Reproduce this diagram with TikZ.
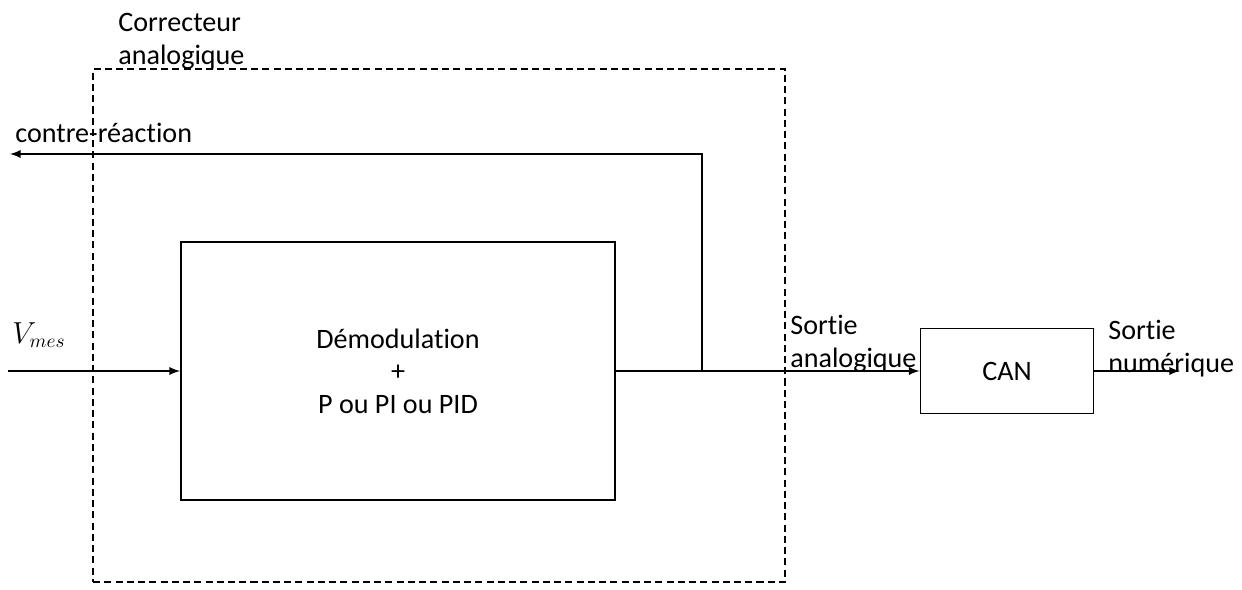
\documentclass[tikz,border=0pt]{standalone}
\usepackage{fontspec}
\setmainfont{Carlito}[Ligatures=NoCommon]
\begin{document}
\begin{tikzpicture}[
    x=0.02cm, y=-0.02cm,
    every node/.style={font=\fontsize{16}{18.5}\selectfont, align=center},
    bloc/.style={rectangle, draw=black, line width=1.1pt, inner sep=0pt},
    cadre/.style={rectangle, draw=black, line width=1.1pt, dash pattern=on 4pt off 2.4pt, inner sep=0pt},
    lbl/.style={inner sep=0pt, align=left},
    arr/.style={-latex, line width=1.1pt}
]
\useasboundingbox (0,0) rectangle (1242,589);
\node[cadre, minimum width=13.84cm, minimum height=10.26cm] (corr) at (439,325.5) {};
\node[lbl, anchor=north west] (corrlbl) at (118,13) {Correcteur\\analogique};
\node[bloc, minimum width=8.68cm, minimum height=5.16cm] (demod) at (398,371) {D\'emodulation\\+\\P ou PI ou PID};
\node[bloc, minimum width=3.46cm, minimum height=1.7cm] (can) at (1007,371) {CAN};
\coordinate (in) at (8,371);
\coordinate (jn) at (702,371);
\coordinate (fb) at (10,154);
\coordinate (out) at (1180,371);
\draw[arr] (in) -- (demod.west);
\draw[arr] (demod.east) -- (can.west);
\draw[arr] (jn) |- (fb);
\draw[arr] (can.east) -- (out);
\node[lbl, anchor=base west] (fblbl) at (15,142) {contre-r\'eaction};
\node[lbl, anchor=base west] (vmes) at (12,343) {$V_{mes}$};
\node[lbl, anchor=north west] (salbl) at (790,315) {Sortie\\analogique};
\node[lbl, anchor=north west] (snlbl) at (1108,320) {Sortie\\num\'erique};
\end{tikzpicture}
\end{document}
